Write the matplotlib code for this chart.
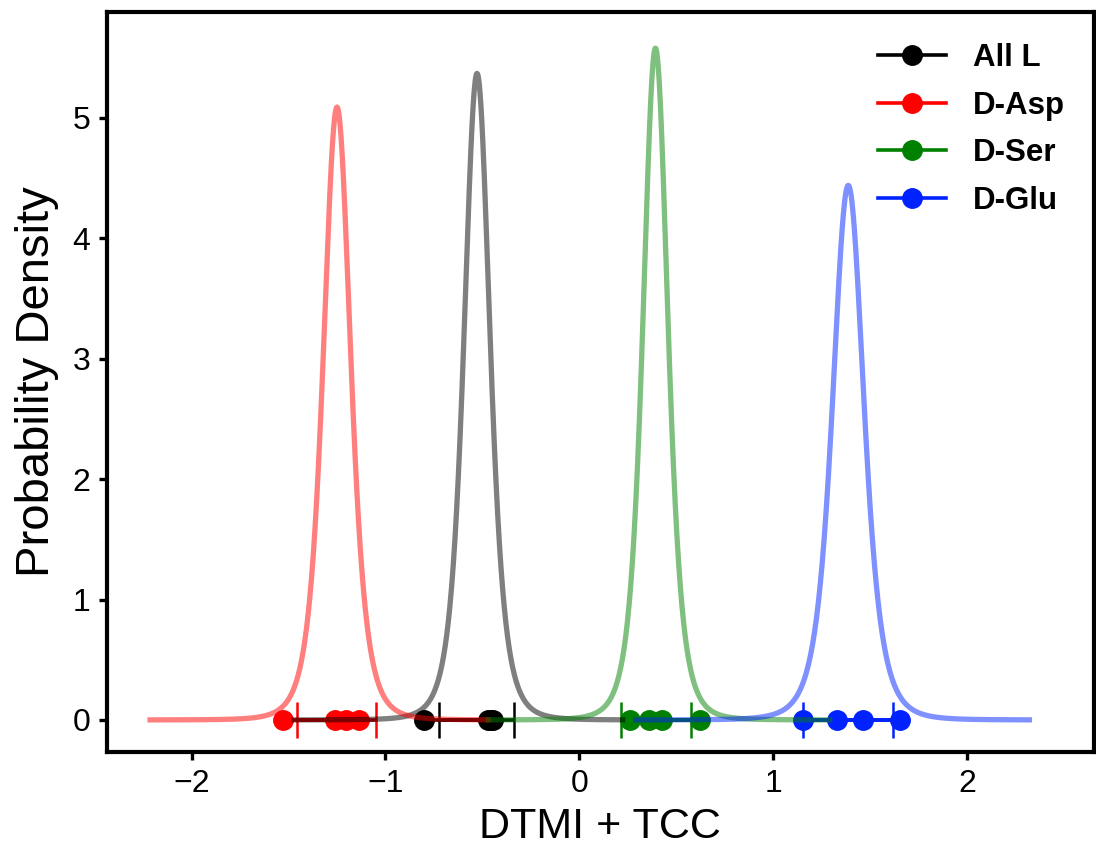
import math
import numpy as np
import matplotlib
matplotlib.use("Agg")
import matplotlib.pyplot as plt

plt.rcParams['font.family'] = ['Liberation Sans', 'DejaVu Sans']

# groups, in drawing order
names = ["All L", "D-Asp", "D-Ser", "D-Glu"]
colors = ["black", "#ff0000", "#008000", "#0022ff"]

# individual values (sit on y = 0)
pts_alll = [-0.803, -0.470, -0.457, -0.447]
pts_asp = [-1.529, -1.259, -1.202, -1.139]
pts_ser = [0.263, 0.358, 0.427, 0.624]
pts_glu = [1.154, 1.330, 1.464, 1.653]
points = [pts_alll, pts_asp, pts_ser, pts_glu]

# confidence interval ends
ci_low = [-0.722, -1.457, 0.212, 1.154]
ci_high = [-0.339, -1.047, 0.576, 1.617]

# fitted t-distribution (df=4): centre, peak height, plotted range
centers = [-0.528, -1.250, 0.392, 1.386]
peaks = [5.37, 5.09, 5.58, 4.44]
x_start = [-1.47, -2.214, -0.47, 0.29]
x_end = [0.223, -0.469, 1.29, 2.32]
dof = 4


def t_pdf(x, loc, peak, df):
    c = math.gamma((df + 1) / 2) / (math.sqrt(df * math.pi) * math.gamma(df / 2))
    scale = c / peak     # peak height gives the scale
    t = (x - loc) / scale
    return c / scale * (1 + t**2 / df) ** (-(df + 1) / 2)


fig = plt.figure(figsize=(10.96, 8.55), dpi=100)
ax = fig.add_axes([0.0976, 0.1205, 0.9004, 0.8655])

for i in range(len(names)):
    ax.plot(points[i], np.zeros(len(points[i])), 'o-', color=colors[i],
            ms=14, lw=2.6, label=names[i], zorder=3)
    mid = (ci_low[i] + ci_high[i]) / 2
    half = (ci_high[i] - ci_low[i]) / 2
    ax.errorbar([mid], [0], xerr=[half], fmt='none', ecolor=colors[i],
                elinewidth=2.6, capsize=13, capthick=1.8, zorder=3)
    xs = np.linspace(x_start[i], x_end[i], 600)
    ax.plot(xs, t_pdf(xs, centers[i], peaks[i], dof), color=colors[i],
            alpha=0.5, lw=3.8, zorder=4)

ax.set_xlim(-2.436, 2.652)
ax.set_ylim(-0.266, 5.88)
ax.set_xticks([-2, -1, 0, 1, 2])
ax.set_yticks([0, 1, 2, 3, 4, 5])
ax.set_xticklabels(["\u22122", "\u22121", "0", "1", "2"])

for s in ax.spines.values():
    s.set_linewidth(3)
ax.tick_params(length=6, width=2.4, labelsize=23, pad=6)

ax.set_xlabel("DTMI + TCC", fontsize=31, labelpad=6)
ax.set_ylabel("Probability Density", fontsize=34, labelpad=10)

ax.legend(loc='upper left', bbox_to_anchor=(0.781, 0.958), frameon=False,
          prop={'weight': 'bold', 'size': 22.5}, borderpad=0, borderaxespad=0,
          handlelength=2.2, handletextpad=0.85, labelspacing=0.56)

fig.savefig("out.png", dpi=100)
